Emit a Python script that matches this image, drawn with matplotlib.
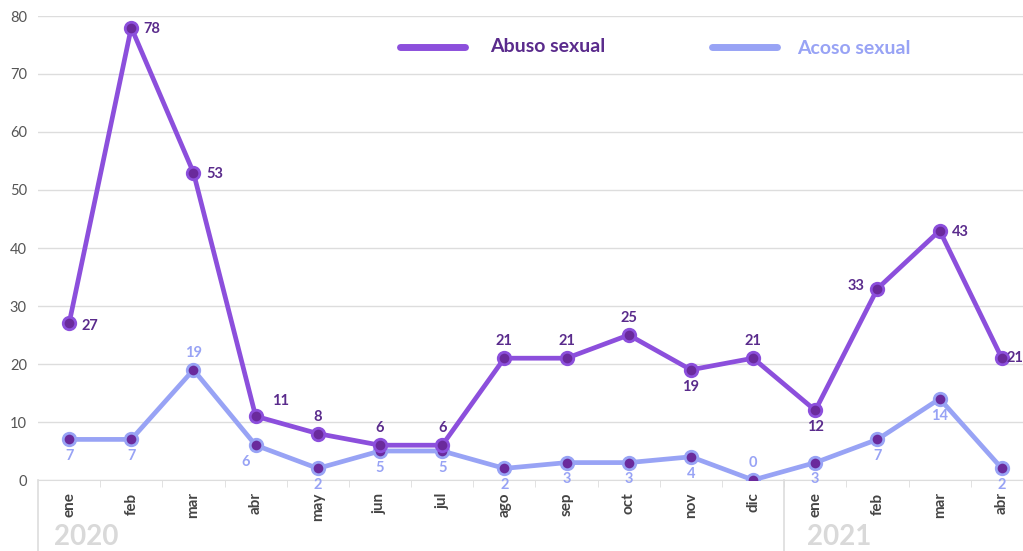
import matplotlib.pyplot as plt
from matplotlib.lines import Line2D

meses = ["ene", "feb", "mar", "abr", "may", "jun", "jul", "ago", "sep", "oct", "nov", "dic",
         "ene", "feb", "mar", "abr"]
abuso = [27, 78, 53, 11, 8, 6, 6, 21, 21, 25, 19, 21, 12, 33, 43, 21]
acoso = [7, 7, 19, 6, 2, 5, 5, 2, 3, 3, 4, 0, 3, 7, 14, 2]
# label offset position per point (r=right, a=above, b=below, l=left)
pos_abuso = ["r", "r", "r", "ra", "a", "a", "a", "a", "a", "a", "b", "a", "b", "l", "r", "rr"]
pos_acoso = ["b", "b", "a", "bl", "b", "b", "b", "b", "b", "b", "b", "a", "b", "b", "b", "b"]
anios = ["2020", "2021"]

c_abuso = "#8c4fdc"
c_abuso_txt = "#5a2b8c"
c_acoso = "#98a3f5"
c_dot = "#6a2a9c"

plt.rcParams['font.family'] = ['Lato', 'DejaVu Sans']

fig = plt.figure(figsize=(10.23, 5.51), dpi=100)
ax = fig.add_axes([38 / 1023, 71 / 551, 985 / 1023, 464 / 551])

x = list(range(len(meses)))
ax.plot(x, acoso, color=c_acoso, lw=3.4, marker="o", ms=9, mfc=c_dot, mec=c_acoso, mew=2, zorder=3)
ax.plot(x, abuso, color=c_abuso, lw=3.4, marker="o", ms=9, mfc=c_dot, mec=c_abuso, mew=2, zorder=4)

offs = {"r": (9, -1, "left", "center"), "l": (-9, 2, "right", "center"),
        "a": (0, 7, "center", "bottom"), "b": (0, -7, "center", "top"),
        "ra": (12, 6, "left", "bottom"), "bl": (-4, -7, "right", "top"),
        "rr": (3.5, 0, "left", "center")}
for xs, ys, ps, col in [(x, abuso, pos_abuso, c_abuso_txt), (x, acoso, pos_acoso, c_acoso)]:
    for xi, yi, p in zip(xs, ys, ps):
        dx, dy, ha, va = offs[p]
        if p == "r" and col == c_abuso_txt and xi == 0:
            dy = -2
        ax.annotate(str(yi), (xi, yi), xytext=(dx, dy), textcoords="offset points",
                    ha=ha, va=va, fontsize=10.5, fontweight="bold", color=col, zorder=5)

ax.set_xlim(-0.5, 15.34)
ax.set_ylim(0, 80)
ax.set_yticks(range(0, 81, 10))
ax.tick_params(axis="y", length=0, labelsize=10.5, labelcolor="#555555", pad=8)
ax.grid(axis="y", color="#dddddd", lw=1)
ax.set_axisbelow(True)
ax.set_xticks(x)
ax.set_xticklabels(meses, rotation=90, fontsize=11, fontweight="bold", color="#444444")
ax.set_xticks([i + 0.5 for i in range(len(meses) - 1)], minor=True)
ax.tick_params(axis="x", which="major", length=0, pad=9)
ax.tick_params(axis="x", which="minor", length=5, color="#dddddd")
for s in ["top", "right", "left"]:
    ax.spines[s].set_visible(False)
ax.spines["bottom"].set_color("#dddddd")

# year separators
for xv in [-0.5, 11.5]:
    ax.plot([xv, xv], [0, -16], color="#dddddd", lw=1.2, clip_on=False)
ax.text(-0.24, -9.9, anios[0], fontsize=20, fontweight="bold", color="#d9d9d9", va="center", ha="left")
ax.text(11.87, -9.9, anios[1], fontsize=20, fontweight="bold", color="#d9d9d9", va="center", ha="left")

# legend
fig.add_artist(Line2D([400 / 1023, 465 / 1023], [1 - 47 / 551] * 2, color=c_abuso, lw=5,
                      solid_capstyle="round"))
fig.text(490 / 1023, 1 - 47 / 551, "Abuso sexual", fontsize=14, fontweight="bold",
         color=c_abuso_txt, va="center")
fig.add_artist(Line2D([712 / 1023, 777 / 1023], [1 - 47 / 551] * 2, color=c_acoso, lw=5,
                      solid_capstyle="round"))
fig.text(797 / 1023, 1 - 49 / 551, "Acoso sexual", fontsize=14, fontweight="bold",
         color=c_acoso, va="center")

fig.savefig("out.png", dpi=100)
